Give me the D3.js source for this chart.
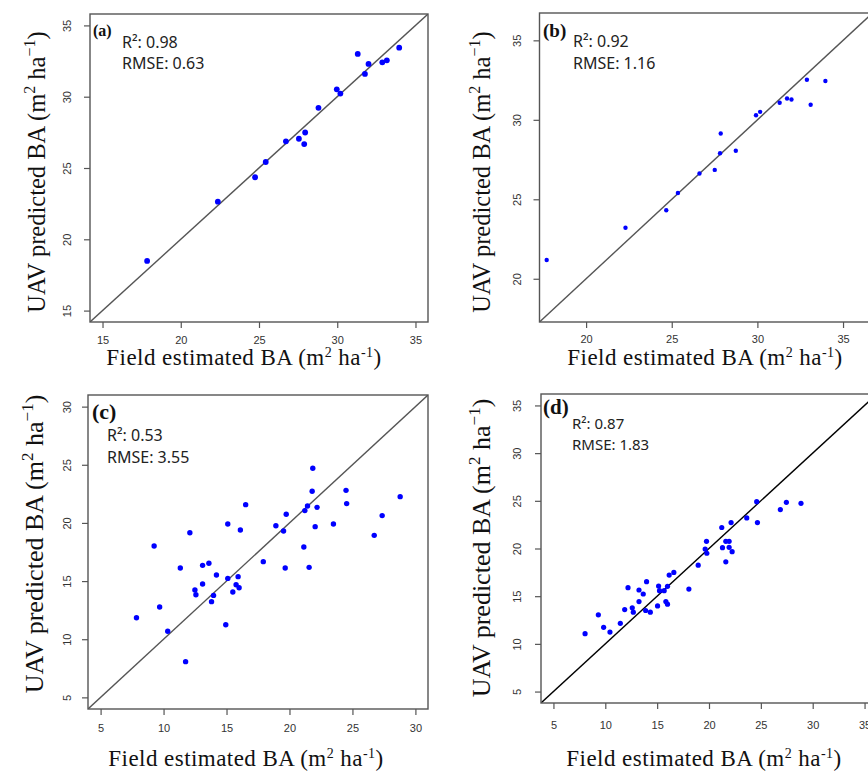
<!DOCTYPE html>
<html>
<head>
<meta charset="utf-8">
<script src="https://cdnjs.cloudflare.com/ajax/libs/d3/7.8.5/d3.min.js"></script>
<style>
  body { margin: 0; background: #fff; }
  svg { display: block; }
</style>
</head>
<body>
<div id="chart"></div>
<script>
// values (field estimated vs UAV predicted basal area)
const fieldA = [17.85, 22.37, 24.75, 25.43, 26.72, 27.55, 27.89, 27.95, 28.8, 29.97, 30.2, 31.31, 31.77, 32.0, 32.88, 33.17, 33.96];
const predA  = [18.48, 22.64, 24.35, 25.42, 26.87, 27.05, 26.68, 27.49, 29.22, 30.52, 30.22, 33.0, 31.6, 32.3, 32.41, 32.55, 33.44];

const fieldB = [17.7, 22.3, 24.68, 25.36, 26.62, 27.51, 27.82, 27.86, 28.74, 29.92, 30.16, 31.3, 31.73, 31.99, 32.89, 33.11, 33.97];
const predB  = [21.18, 23.21, 24.31, 25.4, 26.62, 26.85, 27.9, 29.14, 28.05, 30.29, 30.5, 31.07, 31.34, 31.28, 32.52, 30.95, 32.44];

const fieldC = [7.85, 9.25, 9.69, 10.33, 11.33, 11.75, 12.09, 12.49, 12.57, 13.1, 13.1, 13.6, 13.81, 13.97, 14.2,
                14.94, 15.1, 15.1, 15.5, 15.76, 15.92, 16.0, 16.1, 16.52, 17.92, 18.92, 19.53, 19.66, 19.74, 21.14,
                21.22, 21.43, 21.56, 21.8, 21.85, 22.04, 22.19, 23.49, 24.49, 24.54, 26.73, 27.36, 28.79];
const predC  = [11.85, 18.02, 12.77, 10.68, 16.12, 8.07, 19.16, 14.23, 13.83, 16.35, 14.75, 16.53, 13.23, 13.77, 15.52,
                11.25, 15.23, 19.91, 14.06, 14.69, 15.38, 14.43, 19.39, 21.57, 16.67, 19.76, 19.31, 16.12, 20.74, 17.93,
                21.06, 21.46, 16.18, 22.72, 24.7, 19.68, 21.34, 19.91, 22.8, 21.66, 18.93, 20.63, 22.26];

const fieldD = [8.05, 9.33, 9.84, 10.45, 11.45, 11.87, 12.19, 12.6, 12.7, 13.25, 13.25, 13.66, 13.89, 13.98, 14.34,
                15.04, 15.14, 15.23, 15.68, 15.84, 16.0, 16.0, 16.16, 16.61, 18.06, 18.96, 19.63, 19.76, 19.79, 21.23,
                21.3, 21.62, 21.62, 21.94, 21.94, 22.13, 22.23, 23.64, 24.6, 24.67, 26.88, 27.46, 28.87];
const predD  = [11.07, 13.05, 11.73, 11.24, 12.15, 13.6, 15.89, 13.78, 13.32, 15.65, 14.43, 15.23, 13.5, 16.52, 13.32,
                13.98, 16.06, 15.58, 15.58, 14.43, 14.16, 16.03, 17.21, 17.49, 15.75, 18.25, 19.95, 20.75, 19.5, 22.2,
                20.09, 20.75, 18.6, 20.75, 20.12, 22.72, 19.67, 23.21, 24.91, 22.72, 24.08, 24.84, 24.74];

const panelLabels = ["(a)", "(b)", "(c)", "(d)"];
const r2Values    = ["0.98", "0.92", "0.53", "0.87"];
const rmseValues  = ["0.63", "1.16", "3.55", "1.83"];
const ticksA = [15, 20, 25, 30, 35];
const ticksB = [20, 25, 30, 35];
const ticksC = [5, 10, 15, 20, 25, 30];
const ticksD = [5, 10, 15, 20, 25, 30, 35];

const W = 868, H = 775;

const svg = d3.select("#chart").append("svg")
    .attr("width", W)
    .attr("height", H)
    .style("background", "#fff");

// panel layout (box positions in px)
const panels = [
    { x: fieldA, y: predA, lim: [14.2, 35.8], ticks: ticksA, left: 90, top: 14, w: 338, h: 308,
      dotR: 2.9, line: "#555", xPad: 8, yOff: 19, lab: [93, 36, 16], ann: [122, 48, 69, 16],
      xt: [244, 365, 23], yt: [45, 172, 24.5] },
    { x: fieldB, y: predB, lim: [17.28, 36.72], ticks: ticksB, left: 539.5, top: 13, w: 333, h: 309,
      dotR: 2.2, line: "#555", xPad: 7, yOff: 18.5, lab: [543, 37, 19], ann: [573, 47, 69, 16],
      xt: [705, 365, 23], yt: [490, 172, 24.5] },
    { x: fieldC, y: predC, lim: [4, 31], ticks: ticksC, left: 88, top: 395, w: 340, h: 314,
      dotR: 2.7, line: "#555", xPad: 9, yOff: 17, lab: [92, 419, 22], ann: [107, 441, 463, 16],
      xt: [246, 766, 23], yt: [43, 544, 26] },
    { x: fieldD, y: predD, lim: [3.8, 36.2], ticks: ticksD, left: 541, top: 394, w: 336, h: 309,
      dotR: 2.6, line: "#000", xPad: 12, yOff: 20, lab: [543, 414, 21], ann: [572, 429, 450, 15],
      xt: [704, 766, 23], yt: [490, 548, 26] }
];

panels.forEach((p, i) => {
    const g = svg.append("g");

    const xScale = d3.scaleLinear().domain(p.lim).range([p.left, p.left + p.w]);
    const yScale = d3.scaleLinear().domain(p.lim).range([p.top + p.h, p.top]);

    // clip for the 1:1 line
    g.append("clipPath").attr("id", "clip" + i)
        .append("rect")
        .attr("x", p.left).attr("y", p.top)
        .attr("width", p.w).attr("height", p.h);

    // x axis
    const xAxis = g.append("g")
        .attr("transform", `translate(0,${p.top + p.h})`)
        .call(d3.axisBottom(xScale).tickValues(p.ticks).tickSize(6).tickPadding(p.xPad).tickFormat(d3.format("d")));
    xAxis.select(".domain").remove();
    xAxis.selectAll("line").attr("stroke", "#555").attr("stroke-width", 1.2);
    xAxis.selectAll("text")
        .attr("fill", "#333")
        .style("font-family", "'Liberation Sans Narrow', 'Liberation Sans', sans-serif")
        .style("font-size", "11px");

    // y axis, labels rotated like R's default
    const yAxis = g.append("g")
        .attr("transform", `translate(${p.left},0)`)
        .call(d3.axisLeft(yScale).tickValues(p.ticks).tickSize(6).tickFormat(d3.format("d")));
    yAxis.select(".domain").remove();
    yAxis.selectAll("line").attr("stroke", "#555").attr("stroke-width", 1.2);
    yAxis.selectAll("text")
        .attr("transform", "rotate(-90)")
        .attr("x", 0)
        .attr("y", -p.yOff)
        .attr("dy", 0)
        .attr("text-anchor", "middle")
        .attr("fill", "#333")
        .style("font-family", "'Liberation Sans Narrow', 'Liberation Sans', sans-serif")
        .style("font-size", "11px");

    // 1:1 line
    g.append("line")
        .attr("clip-path", `url(#clip${i})`)
        .attr("x1", xScale(p.lim[0])).attr("y1", yScale(p.lim[0]))
        .attr("x2", xScale(p.lim[1])).attr("y2", yScale(p.lim[1]))
        .attr("stroke", p.line)
        .attr("stroke-width", 1.4);

    // points
    g.append("g").selectAll("circle")
        .data(p.x.map((v, k) => [v, p.y[k]]))
        .enter().append("circle")
        .attr("cx", d => xScale(d[0]))
        .attr("cy", d => yScale(d[1]))
        .attr("r", p.dotR)
        .attr("fill", "#0000ff");

    // plot box
    g.append("rect")
        .attr("x", p.left).attr("y", p.top)
        .attr("width", p.w).attr("height", p.h)
        .attr("fill", "none")
        .attr("stroke", "#555")
        .attr("stroke-width", 1.4);

    // panel letter
    g.append("text")
        .attr("x", p.lab[0]).attr("y", p.lab[1])
        .style("font-family", "'Liberation Serif', serif")
        .style("font-weight", "bold")
        .style("font-size", p.lab[2] + "px")
        .attr("fill", "#111")
        .text(panelLabels[i]);

    // stats
    const statFont = "'Noto Sans', 'DejaVu Sans', sans-serif";
    g.append("text")
        .attr("x", p.ann[0]).attr("y", p.ann[1])
        .style("font-family", statFont).style("font-size", p.ann[3] + "px")
        .attr("fill", "#222")
        .text("R\u00b2: " + r2Values[i]);
    g.append("text")
        .attr("x", p.ann[0]).attr("y", p.ann[2])
        .style("font-family", statFont).style("font-size", p.ann[3] + "px")
        .attr("fill", "#222")
        .text("RMSE: " + rmseValues[i]);

    // x title
    const fs = p.xt[2], sup = Math.round(fs * 0.62), up = Math.round(fs * 0.36);
    const xt = g.append("text")
        .attr("x", p.xt[0]).attr("y", p.xt[1])
        .attr("text-anchor", "middle")
        .style("font-family", "'Liberation Serif', serif")
        .style("font-size", fs + "px")
        .style("letter-spacing", "0.45px")
        .attr("fill", "#111");
    xt.append("tspan").text("Field estimated BA (m");
    xt.append("tspan").attr("dy", -up).style("font-size", sup + "px").text("2");
    xt.append("tspan").attr("dy", up).text(" ha");
    xt.append("tspan").attr("dy", -up).style("font-size", sup + "px").text("-1");
    xt.append("tspan").attr("dy", up).text(")");

    // y title
    const ys = p.yt[2], ysup = Math.round(ys * 0.66), yup = Math.round(ys * 0.4);
    const yt = g.append("text")
        .attr("transform", `translate(${p.yt[0]},${p.yt[1]}) rotate(-90)`)
        .attr("text-anchor", "middle")
        .style("font-family", "'Liberation Serif', serif")
        .style("font-size", ys + "px")
        .attr("fill", "#111");
    yt.append("tspan").text("UAV predicted BA (m");
    yt.append("tspan").attr("dy", -yup).style("font-size", ysup + "px").text("2");
    yt.append("tspan").attr("dy", yup).text(" ha");
    yt.append("tspan").attr("dy", -yup).style("font-size", ysup + "px").text("\u22121");
    yt.append("tspan").attr("dy", yup).text(")");
});
</script>
</body>
</html>
